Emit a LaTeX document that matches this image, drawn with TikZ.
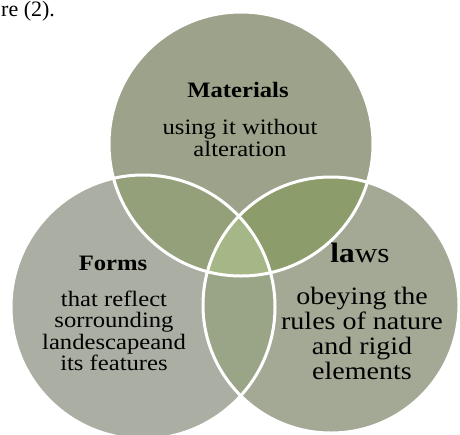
\documentclass[tikz,border=0pt]{standalone}
\usepackage{fontspec}
\setmainfont{Liberation Serif}
\newfontfamily\vennfont[FakeStretch=1.12]{Liberation Serif}

\definecolor{cmat}{HTML}{9DA38A}
\definecolor{cfrm}{HTML}{ABAEA2}
\definecolor{claw}{HTML}{A4A996}
\definecolor{ctl}{HTML}{94A07A}
\definecolor{ctr}{HTML}{8D9C6B}
\definecolor{cbot}{HTML}{9AA487}
\definecolor{cmid}{HTML}{A5B786}

\begin{document}
\begin{tikzpicture}[x=1pt,y=-1pt,
    ring/.style={draw=white, line width=3pt},
    head/.style={anchor=base, inner sep=0pt, font=\vennfont\bfseries\fontsize{22}{22}\selectfont},
    body/.style={align=center, inner sep=0pt, font=\vennfont\fontsize{22}{21.5}\selectfont}]
  \useasboundingbox (0,0) rectangle (460,434);
  \clip (0,0) rectangle (460,434);
  \fill[white] (0,0) rectangle (460,434);

  \coordinate (mat) at (241,144);
  \coordinate (frm) at (143,307);
  \coordinate (law) at (331,305);

  % circles and overlaps
  \fill[cmat] (mat) circle (132);
  \fill[cfrm] (frm) circle (132);
  \fill[claw] (law) circle (128);
  \begin{scope}
    \clip (mat) circle (132);
    \fill[ctl] (frm) circle (132);
    \fill[ctr] (law) circle (128);
  \end{scope}
  \begin{scope}
    \clip (frm) circle (132);
    \fill[cbot] (law) circle (128);
  \end{scope}
  \begin{scope}
    \clip (mat) circle (132);
    \clip (frm) circle (132);
    \fill[cmid] (law) circle (128);
  \end{scope}
  \draw[ring] (mat) circle (132);
  \draw[ring] (frm) circle (132);
  \draw[ring] (law) circle (128);

  % caption fragment
  \node[anchor=base west, inner sep=0pt, font=\fontsize{22}{22}\selectfont] (cap) at (1,16) {re (2).};

  % texts
  \node[head] (matT) at (238,97) {Materials};
  \node[body] (matB) at (240,138) {using it without\\alteration};
  \node[head] (frmT) at (113,270) {Forms};
  \node[body] (frmB) at (114,331) {that reflect\\sorrounding\\landescapeand\\its features};
  \node[anchor=base, inner sep=0pt, font=\vennfont\fontsize{28}{28}\selectfont] (lawT) at (360,262) {\textbf{la}ws};
  \node[body, font=\vennfont\fontsize{25}{25}\selectfont] (lawB) at (362,333) {obeying the\\rules of nature\\and rigid\\elements};
\end{tikzpicture}
\end{document}
